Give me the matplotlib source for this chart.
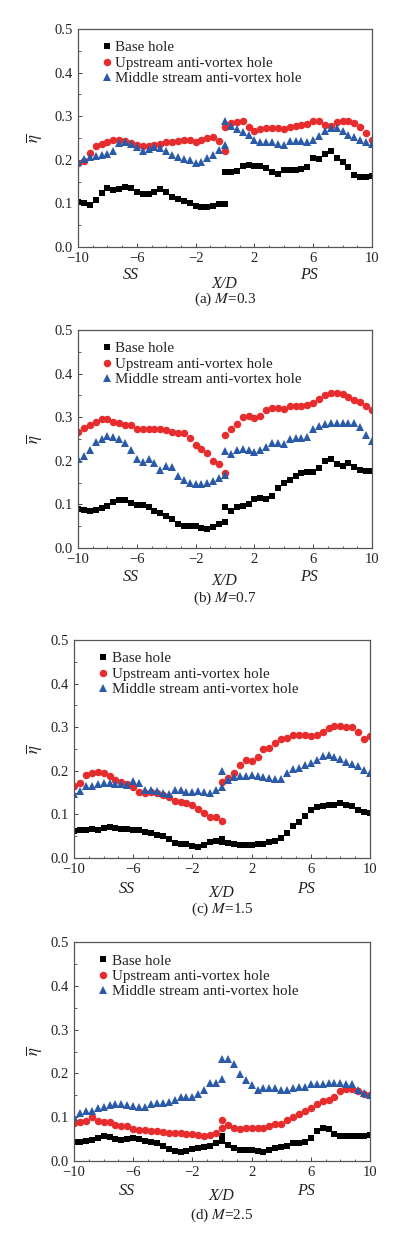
import matplotlib
matplotlib.use("Agg")
import matplotlib.pyplot as plt
from matplotlib.ticker import MultipleLocator, FixedLocator, FixedFormatter

plt.rcParams['font.family'] = ['Liberation Serif', 'DejaVu Serif']
plt.rcParams['mathtext.fontset'] = 'stix'

# X/D positions: suction side (-10..0) then pressure side (0..10)
x_ss = [-10.0, -9.6, -9.2, -8.8, -8.4, -8.0, -7.6, -7.2, -6.8, -6.4, -6.0, -5.6, -5.2,
        -4.8, -4.4, -4.0, -3.6, -3.2, -2.8, -2.4, -2.0, -1.6, -1.2, -0.8, -0.4, 0.0]
x_ps = [0.0, 0.4, 0.8, 1.2, 1.6, 2.0, 2.4, 2.8, 3.2, 3.6, 4.0, 4.4, 4.8,
        5.2, 5.6, 6.0, 6.4, 6.8, 7.2, 7.6, 8.0, 8.4, 8.8, 9.2, 9.6, 10.0]
x_pos = x_ss + x_ps

series_labels = ["Base hole", "Upstream anti-vortex hole", "Middle stream anti-vortex hole"]
panel_captions = ["(a) $\\mathit{M}$=0.3", "(b) $\\mathit{M}$=0.7",
                  "(c) $\\mathit{M}$=1.5", "(d) $\\mathit{M}$=2.5"]

# (a) M=0.3
base_a = [0.103,0.100,0.097,0.108,0.124,0.135,0.131,0.134,0.137,0.135,0.127,0.121,0.121,0.126,0.132,0.126,0.115,0.110,0.105,0.101,0.094,0.092,0.092,0.095,0.099,0.098,
          0.173,0.172,0.175,0.186,0.188,0.186,0.185,0.182,0.172,0.168,0.176,0.176,0.177,0.180,0.184,0.204,0.202,0.213,0.221,0.205,0.196,0.184,0.166,0.160,0.160,0.162]
up_a = [0.193,0.198,0.215,0.232,0.237,0.241,0.246,0.245,0.243,0.238,0.233,0.232,0.232,0.234,0.236,0.240,0.241,0.244,0.245,0.245,0.241,0.246,0.249,0.252,0.242,0.220,
        0.275,0.284,0.287,0.288,0.276,0.267,0.270,0.272,0.273,0.273,0.271,0.275,0.277,0.279,0.281,0.288,0.288,0.280,0.278,0.286,0.288,0.288,0.284,0.276,0.262,0.246]
mid_a = [0.195,0.202,0.206,0.208,0.210,0.213,0.220,0.238,0.240,0.236,0.229,0.220,0.224,0.229,0.228,0.220,0.211,0.206,0.202,0.200,0.193,0.195,0.203,0.212,0.222,0.233,
         0.290,0.278,0.270,0.264,0.256,0.245,0.240,0.240,0.240,0.236,0.235,0.242,0.244,0.242,0.240,0.245,0.255,0.265,0.274,0.273,0.266,0.258,0.252,0.245,0.241,0.237]

# (b) M=0.7
base_b = [0.090,0.087,0.086,0.087,0.091,0.097,0.106,0.111,0.110,0.103,0.099,0.098,0.093,0.086,0.080,0.074,0.066,0.055,0.051,0.051,0.050,0.046,0.044,0.048,0.056,0.060,
          0.095,0.085,0.094,0.097,0.100,0.112,0.114,0.113,0.120,0.138,0.148,0.157,0.166,0.173,0.175,0.175,0.184,0.199,0.203,0.193,0.189,0.194,0.185,0.179,0.177,0.177]
up_b = [0.265,0.276,0.283,0.289,0.296,0.297,0.290,0.286,0.283,0.282,0.274,0.272,0.272,0.272,0.273,0.270,0.265,0.264,0.264,0.252,0.236,0.228,0.217,0.200,0.192,0.171,
        0.259,0.272,0.284,0.300,0.303,0.299,0.303,0.316,0.322,0.320,0.319,0.325,0.326,0.325,0.328,0.333,0.342,0.352,0.355,0.355,0.353,0.347,0.340,0.336,0.326,0.316]
mid_b = [0.205,0.212,0.225,0.244,0.250,0.257,0.254,0.250,0.240,0.225,0.203,0.198,0.205,0.196,0.180,0.187,0.186,0.165,0.156,0.150,0.147,0.147,0.149,0.154,0.160,0.168,
         0.223,0.215,0.224,0.226,0.225,0.221,0.224,0.232,0.240,0.240,0.238,0.250,0.252,0.252,0.254,0.272,0.280,0.284,0.286,0.286,0.286,0.286,0.286,0.278,0.260,0.246]

# (c) M=1.5
base_c = [0.062,0.064,0.065,0.066,0.064,0.068,0.070,0.068,0.067,0.066,0.065,0.064,0.060,0.057,0.053,0.050,0.044,0.034,0.032,0.031,0.027,0.025,0.029,0.037,0.039,0.044,
          0.036,0.034,0.031,0.030,0.030,0.030,0.031,0.033,0.036,0.040,0.047,0.058,0.073,0.083,0.096,0.110,0.118,0.120,0.121,0.121,0.126,0.121,0.120,0.109,0.106,0.103]
up_c = [0.166,0.173,0.190,0.196,0.197,0.195,0.189,0.180,0.174,0.170,0.163,0.152,0.150,0.151,0.150,0.145,0.140,0.131,0.128,0.126,0.122,0.113,0.104,0.095,0.093,0.085,
        0.175,0.183,0.196,0.213,0.224,0.223,0.232,0.249,0.252,0.263,0.273,0.276,0.282,0.283,0.282,0.280,0.281,0.289,0.299,0.302,0.302,0.301,0.300,0.288,0.273,0.279]
mid_c = [0.147,0.153,0.165,0.164,0.170,0.172,0.171,0.170,0.170,0.168,0.176,0.173,0.157,0.156,0.154,0.150,0.146,0.155,0.156,0.151,0.151,0.154,0.152,0.150,0.157,0.162,
         0.200,0.180,0.186,0.188,0.189,0.190,0.189,0.185,0.184,0.181,0.182,0.195,0.205,0.207,0.214,0.218,0.225,0.234,0.237,0.232,0.228,0.220,0.216,0.210,0.202,0.195]

# (d) M=2.5
base_d = [0.043,0.044,0.046,0.049,0.053,0.056,0.054,0.050,0.049,0.050,0.053,0.050,0.045,0.043,0.040,0.035,0.028,0.022,0.020,0.022,0.027,0.030,0.032,0.035,0.040,0.058,
          0.045,0.036,0.030,0.026,0.024,0.024,0.022,0.021,0.026,0.030,0.033,0.035,0.040,0.042,0.044,0.052,0.068,0.075,0.072,0.062,0.057,0.058,0.058,0.057,0.058,0.059]
up_d = [0.087,0.089,0.091,0.101,0.091,0.089,0.088,0.082,0.080,0.079,0.074,0.071,0.070,0.069,0.068,0.067,0.065,0.064,0.063,0.062,0.061,0.059,0.058,0.060,0.064,0.075,
        0.093,0.083,0.076,0.074,0.075,0.075,0.076,0.076,0.080,0.084,0.084,0.093,0.100,0.107,0.114,0.121,0.131,0.136,0.140,0.147,0.160,0.164,0.165,0.160,0.154,0.150]
mid_d = [0.101,0.110,0.114,0.115,0.120,0.124,0.127,0.129,0.130,0.128,0.126,0.123,0.124,0.130,0.132,0.133,0.135,0.140,0.145,0.146,0.146,0.152,0.163,0.178,0.179,0.187,
         0.234,0.234,0.221,0.199,0.186,0.173,0.163,0.166,0.167,0.167,0.163,0.162,0.167,0.168,0.170,0.175,0.176,0.176,0.178,0.178,0.178,0.176,0.176,0.162,0.155,0.150]

panels = [(base_a, up_a, mid_a), (base_b, up_b, mid_b), (base_c, up_c, mid_c), (base_d, up_d, mid_d)]

x_major = [-10, -6, -2, 2, 6, 10]
y_ticks = [0.0, 0.1, 0.2, 0.3, 0.4, 0.5]

W, H = 399, 1243
fig = plt.figure(figsize=(W / 100, H / 100), dpi=100)
fig.patch.set_facecolor('white')

# axes boxes in pixels: left, top, right, bottom
boxes = [(78, 29, 372, 247), (78, 330, 372, 548), (74, 640, 370, 858), (74, 942, 370, 1161)]
caption_y = [299, 598, 909, 1215]
side_y = [275, 577, 889, 1191]
xd_y = [284, 581, 893, 1196]

styles = [dict(marker='s', color='black', ms=5.0),
          dict(marker='o', color='#e62c2d', ms=5.4),
          dict(marker='^', color='#2b5aa8', ms=5.8)]

txt_col = '#222222'

for i, (series, box) in enumerate(zip(panels, boxes)):
    l, t, r, b = box
    ax = fig.add_axes([l / W, 1 - b / H, (r - l) / W, (b - t) / H])
    for data, lab, st in zip(series, series_labels, styles):
        ax.plot(x_pos, data, linestyle='none', marker=st['marker'], color=st['color'],
                markersize=st['ms'], markeredgewidth=0, label=lab)
    ax.set_xlim(-10, 10)
    ax.set_ylim(0, 0.5)
    ax.xaxis.set_major_locator(FixedLocator(x_major))
    ax.xaxis.set_major_formatter(FixedFormatter(['\u221210', '\u22126', '\u22122', '2', '6', '10']))
    ax.xaxis.set_minor_locator(MultipleLocator(1))
    ax.yaxis.set_major_locator(FixedLocator(y_ticks))
    ax.yaxis.set_major_formatter(FixedFormatter(['0.0', '0.1', '0.2', '0.3', '0.4', '0.5']))
    ax.yaxis.set_minor_locator(MultipleLocator(0.05))
    ax.tick_params(which='both', direction='in', top=False, right=False, labelsize=10.5,
                   colors='#444444', labelcolor=txt_col)
    ax.tick_params(which='major', length=3, width=0.7, pad=3.5)
    ax.tick_params(which='minor', length=1.8, width=0.6)
    for sp in ax.spines.values():
        sp.set_color('#555555')
        sp.set_linewidth(0.9)
    ax.set_ylabel(r'$\overline{\eta}$', fontsize=12, color=txt_col)
    ax.yaxis.set_label_coords(-(l - 44) / (r - l), 0.5)
    leg = ax.legend(loc='upper left', bbox_to_anchor=(0.079, 0.945), frameon=False,
                    fontsize=10.8, handlelength=0.8, handletextpad=0.15, labelspacing=0.12,
                    borderpad=0, borderaxespad=0, numpoints=1)
    for txt in leg.get_texts():
        txt.set_color(txt_col)

    def xpix(xv):
        return l + (xv + 10) / 20 * (r - l)
    fig.text(xpix(-6.4) / W, 1 - side_y[i] / H, 'SS', style='italic', fontsize=11.5,
             ha='center', va='center', color=txt_col)
    fig.text(xpix(5.7) / W, 1 - side_y[i] / H, 'PS', style='italic', fontsize=11.5,
             ha='center', va='center', color=txt_col)
    fig.text(xpix(-0.05) / W, 1 - xd_y[i] / H, 'X/D', style='italic', fontsize=11.5,
             ha='center', va='center', color=txt_col)
    fig.text(xpix(0.0) / W, 1 - caption_y[i] / H, panel_captions[i], fontsize=11,
             ha='center', va='center', color=txt_col)

fig.savefig('out.png', dpi=100, facecolor='white')
